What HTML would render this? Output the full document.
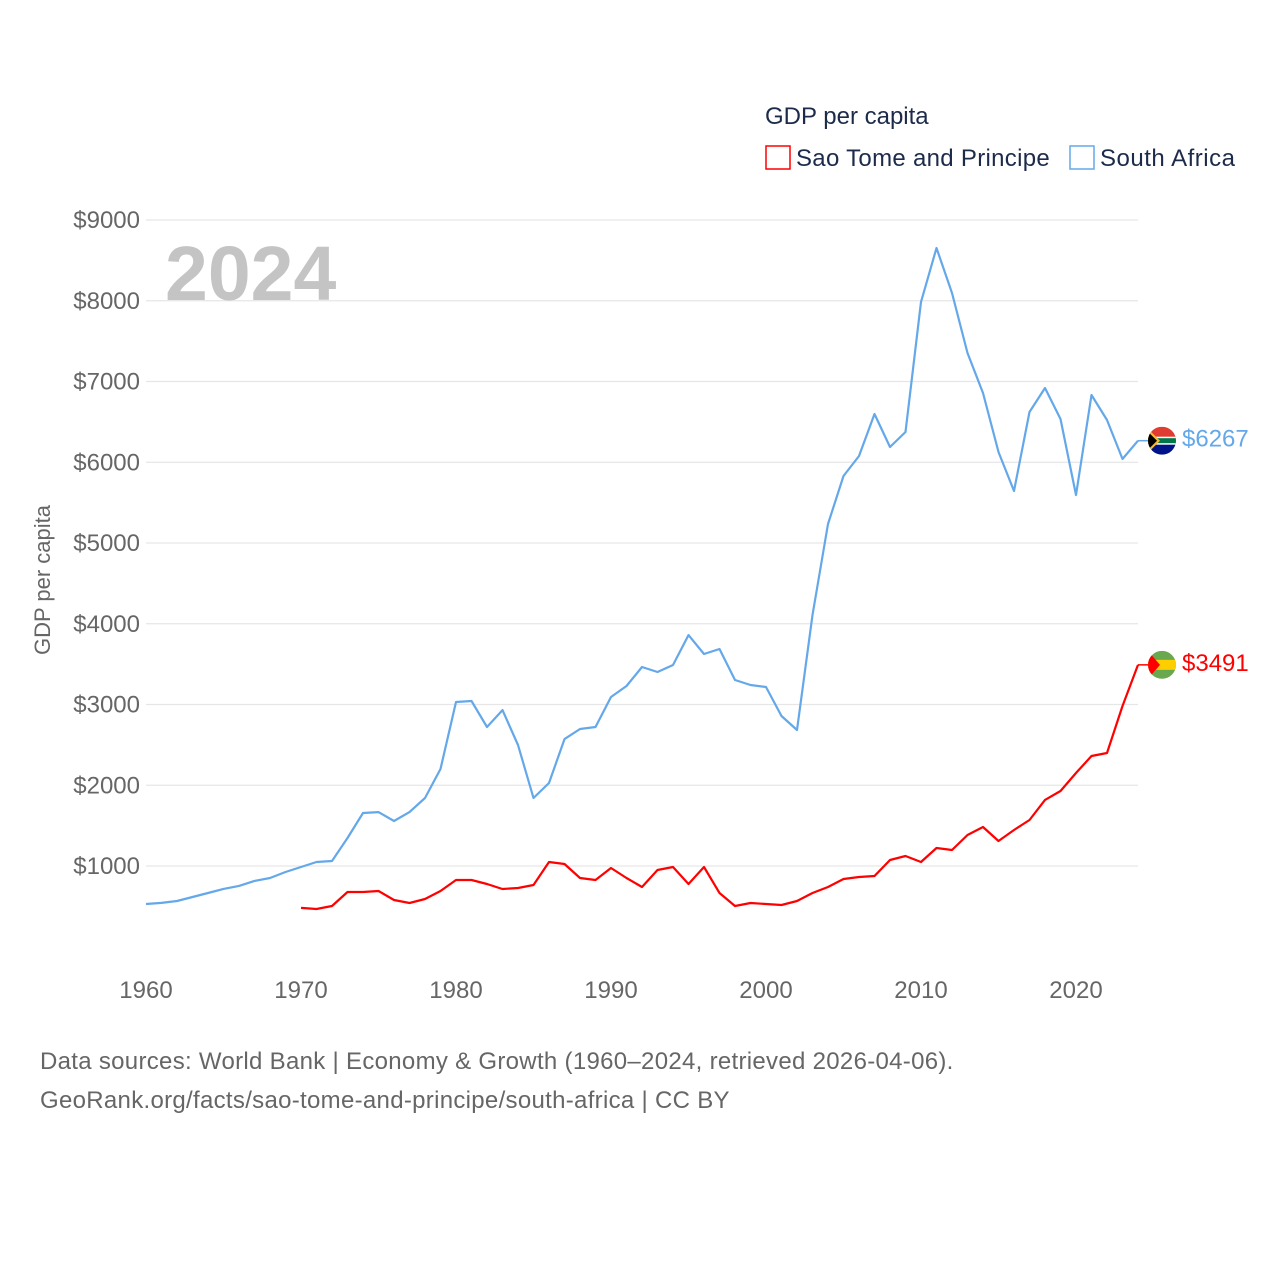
<!DOCTYPE html>
<html><head><meta charset="utf-8"><style>
body{margin:0;background:#fff;font-family:"Liberation Sans",sans-serif}
svg text{font-family:"Liberation Sans",sans-serif}
</style></head><body>
<svg id="chart" width="1280" height="1280" viewBox="0 0 1280 1280">
<g id="grid"></g>
<g id="yticks"></g>
<g id="xticks"></g>
<text x="165" y="300" font-size="77" font-weight="bold" fill="#c4c4c4">2024</text>
<text transform="translate(50,580) rotate(-90)" text-anchor="middle" font-size="22" fill="#666">GDP per capita</text>
<g id="series"></g>
<text x="765" y="124" font-size="24" fill="#1d2b4a">GDP per capita</text>
<g>
<rect x="766" y="146" width="24" height="23" fill="none" stroke="#ff0000" stroke-width="1.5"/>
<text x="796" y="166" font-size="24" fill="#1d2b4a" letter-spacing="0.3">Sao Tome and Principe</text></g>
<g>
<rect x="1070" y="146" width="24" height="23" fill="none" stroke="#64a8ea" stroke-width="1.5"/>
<text x="1100" y="166" font-size="24" fill="#1d2b4a" letter-spacing="0.5">South Africa</text></g>
<text x="40" y="1069" font-size="24" fill="#666" letter-spacing="0.3">Data sources: World Bank | Economy &amp; Growth (1960–2024, retrieved 2026-04-06).</text>
<text x="40" y="1108" font-size="24" fill="#666" letter-spacing="0.3">GeoRank.org/facts/sao-tome-and-principe/south-africa | CC BY</text>
</svg>
<script>
const yTicks=[1000,2000,3000,4000,5000,6000,7000,8000,9000];
const xTicks=[1960,1970,1980,1990,2000,2010,2020];
const zaStart=1960;
const zaValues=[529,543,567,616,666,716,753,815,851,926,988,1049,1062,1347,1656,1668,1557,1668,1842,2201,3031,3043,2721,2931,2498,1842,2028,2572,2696,2721,3093,3229,3464,3402,3489,3860,3625,3687,3303,3241,3217,2857,2684,4108,5235,5830,6077,6597,6189,6375,7984,8653,8096,7353,6858,6127,5644,6622,6920,6536,5595,6833,6523,6040,6267];
const stpStart=1970;
const stpValues=[481,468,505,678,678,690,579,542,591,690,827,827,777,715,728,765,1050,1025,852,827,975,852,740,950,988,777,988,666,505,542,529,517,567,666,740,839,864,876,1074,1124,1050,1223,1198,1384,1483,1310,1446,1570,1818,1929,2152,2362,2400,2982,3491];
const NS='http://www.w3.org/2000/svg';
const X=y=>146+(y-1960)*15.5;
const Y=v=>946.75-v*0.08075;
function mk(t,a,p){const e=document.createElementNS(NS,t);for(const k in a)e.setAttribute(k,a[k]);p.appendChild(e);return e;}
const grid=document.getElementById('grid'),yt=document.getElementById('yticks'),xt=document.getElementById('xticks'),sg=document.getElementById('series');
yTicks.forEach(v=>{
 const l=mk('line',{x1:146,x2:1138,y1:Y(v),y2:Y(v),stroke:'#e6e6e6','stroke-width':1.3},grid);
 
 
 const t=mk('text',{x:140,y:Y(v)+8,'text-anchor':'end','font-size':24,fill:'#666'},yt);
 t.textContent='$'+v;
 
 
});
xTicks.forEach(v=>{
 const t=mk('text',{x:X(v),y:998,'text-anchor':'middle','font-size':24,fill:'#666'},xt);
 t.textContent=v;
 
 
});
function series(start,vals,color,name){
 const pts=vals.map((v,i)=>X(start+i).toFixed(1)+','+Y(v).toFixed(1)).join(' ');
 const p=mk('polyline',{points:pts,fill:'none',stroke:color,'stroke-width':2.2,'stroke-linejoin':'round'},sg);
 
 
 const last=vals[vals.length-1],lx=X(start+vals.length-1),ly=Y(last);
 const s=mk('line',{x1:lx,x2:lx+10,y1:ly,y2:ly,stroke:color,'stroke-width':1.5},sg);
 
 
 return [lx,ly,last];
}
function flagZA(cx,cy){
 const g=mk('g',{},sg);
 
 
 const cp=mk('clipPath',{id:'cza'},g);
 mk('circle',{cx:cx,cy:cy,r:14},cp);
 const h=mk('g',{'clip-path':'url(#cza)'},g);
 mk('rect',{x:cx-14,y:cy-14,width:28,height:14,fill:'#e03c31'},h);
 mk('rect',{x:cx-14,y:cy,width:28,height:14,fill:'#001489'},h);
 mk('rect',{x:cx-14,y:cy-4,width:28,height:8,fill:'#fff'},h);
 mk('rect',{x:cx-14,y:cy-2.5,width:28,height:5,fill:'#007749'},h);
 mk('polygon',{points:`${cx-14},${cy-12} ${cx-2},${cy} ${cx-14},${cy+12}`,fill:'#ffb81c'},h);
 mk('polygon',{points:`${cx-14},${cy-9} ${cx-5},${cy} ${cx-14},${cy+9}`,fill:'#000'},h);
}
function flagSTP(cx,cy){
 const g=mk('g',{},sg);
 
 
 const cp=mk('clipPath',{id:'cst'},g);
 mk('circle',{cx:cx,cy:cy,r:14},cp);
 const h=mk('g',{'clip-path':'url(#cst)'},g);
 mk('rect',{x:cx-14,y:cy-14,width:28,height:28,fill:'#6aa84f'},h);
 mk('rect',{x:cx-14,y:cy-5,width:28,height:10,fill:'#ffce00'},h);
 mk('polygon',{points:`${cx-14},${cy-14} ${cx-2},${cy} ${cx-14},${cy+14}`,fill:'#ff0000'},h);
}
const za=series(zaStart,zaValues,'#64a8ea','south-africa');
const st=series(stpStart,stpValues,'#ff0000','sao-tome');
flagZA(za[0]+24,za[1]);flagSTP(st[0]+24,st[1]);
[[za,'#64a8ea','south-africa-end-label'],[st,'#ff0000','sao-tome-end-label']].forEach(([d,c,n])=>{
 const t=mk('text',{x:d[0]+44,y:d[1]+6,'font-size':24,fill:c},sg);
 t.textContent='$'+d[2];
 
 
});
</script>
</body></html>
